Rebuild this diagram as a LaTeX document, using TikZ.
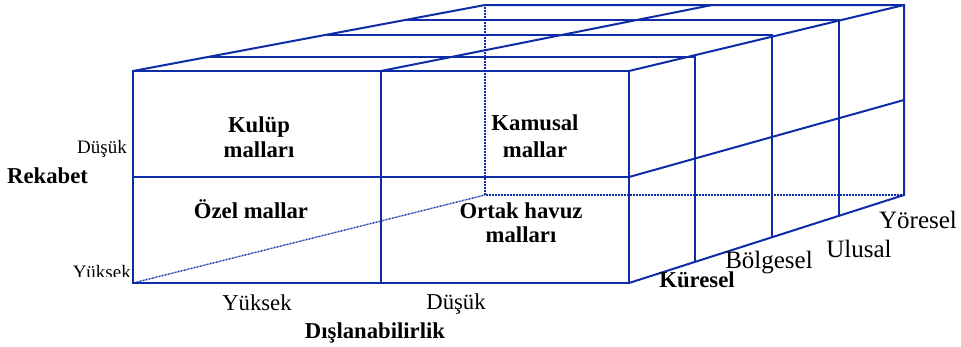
\documentclass[tikz,border=0pt]{standalone}
\usepackage{fontspec}
\setmainfont{Liberation Serif}
\definecolor{edgeblue}{RGB}{14,44,168}
\begin{document}
\begin{tikzpicture}[x=1pt,y=-1pt,
  solidedge/.style={draw=edgeblue, line width=2pt, line join=miter},
  hiddenedge/.style={draw=edgeblue, line width=1.4pt, dash pattern=on 0.8pt off 0.7pt},
  lbl/.style={inner sep=0pt, anchor=base, font=\fontsize{22.7}{25}\selectfont},
  boldlbl/.style={lbl, font=\fontsize{22.7}{25}\selectfont\bfseries},
  smalllbl/.style={inner sep=0pt, font=\fontsize{19}{20}\selectfont},
  reglbl/.style={inner sep=0pt, anchor=base, font=\fontsize{25}{27}\selectfont}]
\useasboundingbox (0,0) rectangle (961,346);
% front face
\coordinate (A) at (133,71);
\coordinate (B) at (629,71);
\coordinate (C) at (629,283);
\coordinate (D) at (133,283);
\coordinate (M1) at (381,71);
\coordinate (M2) at (381,283);
\coordinate (H1) at (133,177);
\coordinate (H2) at (629,177);
% back face
\coordinate (E) at (485,5);
\coordinate (F) at (904,5);
\coordinate (G) at (904,195);
\coordinate (K) at (485,195);
\coordinate (T) at (712,5);
\coordinate (R) at (904,100);
% layers
\coordinate (L1a) at (208,57);  \coordinate (L1b) at (695,57);  \coordinate (L1c) at (695,262);
\coordinate (L2a) at (327,35);  \coordinate (L2b) at (772,35);  \coordinate (L2c) at (772,237);
\coordinate (L3a) at (405,20);  \coordinate (L3b) at (839,20);  \coordinate (L3c) at (839,216);
% hidden edges
\draw[hiddenedge] (E) -- (K) -- (G);
\draw[hiddenedge] (D) -- (K);
% solid edges
\draw[solidedge] (A) rectangle (C);
\draw[solidedge] (M1) -- (M2);
\draw[solidedge] (H1) -- (H2);
\draw[solidedge] (A) -- (E) -- (F) -- (G) -- (C);
\draw[solidedge] (B) -- (F);
\draw[solidedge] (M1) -- (T);
\draw[solidedge] (H2) -- (R);
\draw[solidedge] (L1a) -- (L1b) -- (L1c);
\draw[solidedge] (L2a) -- (L2b) -- (L2c);
\draw[solidedge] (L3a) -- (L3b) -- (L3c);
% cell labels
\node[boldlbl] (kulup1) at (259,132) {Kulüp};
\node[boldlbl] (kulup2) at (259,157) {malları};
\node[boldlbl] (kamu1) at (535,130) {Kamusal};
\node[boldlbl] (kamu2) at (535,157) {mallar};
\node[boldlbl] (ozel) at (251,218) {Özel mallar};
\node[boldlbl] (ortak1) at (521,218) {Ortak havuz};
\node[boldlbl] (ortak2) at (521,242) {malları};
% axis labels
\node[smalllbl, anchor=base east] (rdusuk) at (127,153) {Düşük};
\node[boldlbl, anchor=base west] (rekabet) at (7,183) {Rekabet};
\begin{scope}
  \clip (0,0) rectangle (132,276);
  \node[smalllbl, anchor=base east] (ryuksek) at (131,278) {Yüksek};
\end{scope}
\node[lbl] (dyuksek) at (257,310) {Yüksek};
\node[lbl] (ddusuk) at (456,309) {Düşük};
\node[boldlbl] (dislan) at (375,338) {Dışlanabilirlik};
\node[boldlbl] (kuresel) at (697,287) {Küresel};
\node[reglbl] (bolgesel) at (769,268) {Bölgesel};
\node[reglbl] (ulusal) at (859,257) {Ulusal};
\node[reglbl] (yoresel) at (918,228) {Yöresel};
\end{tikzpicture}
\end{document}
